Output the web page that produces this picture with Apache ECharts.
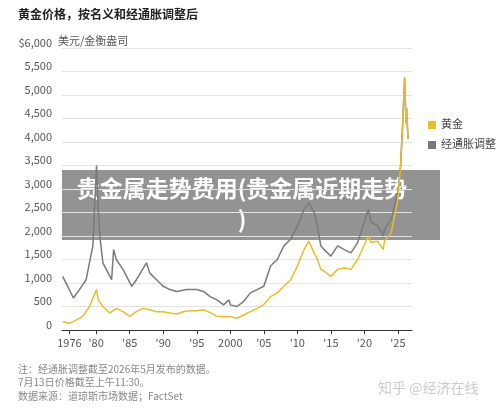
<!DOCTYPE html><html><head><meta charset="utf-8"><script src="https://cdn.jsdelivr.net/npm/echarts@6/dist/echarts.min.js"></script>
<style>body{margin:0;background:#fff}#c{width:500px;height:410px}</style></head><body><div id="c"></div><script>
const nominalYears=[1975,1976,1977,1978,1979,1980.05,1980.3,1981,1982,1983,1984,1985,1986,1987,1988,1989,1990,1991,1992,1993,1994,1995,1996,1997,1998,1999,2000,2001,2002,2003,2004,2005,2006,2007,2008,2009,2010,2011,2011.7,2012.5,2013,2013.5,2014,2015,2016,2017,2018,2019,2020.6,2021,2022,2022.8,2023,2024,2024.5,2025,2025.4,2025.7,2026,2026.2,2026.3,2026.5];
const nominalValues=[180,140,210,290,500,860,640,500,360,460,390,290,390,460,430,390,390,360,340,390,410,410,430,370,290,280,285,250,320,390,460,540,710,790,930,1070,1360,1710,1890,1640,1500,1290,1250,1140,1290,1320,1290,1500,2000,1860,1890,1710,1890,2070,2430,2790,3500,4360,5390,4400,4710,4070];
const realYears=[1975,1976.6,1977.5,1978.5,1979.5,1980.05,1980.3,1980.6,1981,1982.3,1982.6,1983,1984,1985.3,1986,1987.5,1988,1989,1990,1991,1992,1993.5,1995,1996,1997,1998,1999,1999.8,2000,2001,2002,2003,2004,2005,2006,2007,2008,2009,2010,2011,2011.7,2012.5,2013,2013.5,2014,2015,2016,2017,2018,2019,2020.6,2021,2022,2022.8,2023,2024,2024.5,2025,2025.4,2025.7,2026,2026.2,2026.3,2026.5];
const realValues=[1140,680,860,1070,1790,3500,2570,1930,1430,1070,1710,1500,1290,930,1070,1430,1210,1070,930,860,820,860,860,820,710,640,535,640,535,500,610,790,860,930,1360,1500,1790,1930,2210,2570,2710,2500,2210,1790,1710,1570,1790,1710,1640,1860,2570,2290,2210,2000,2140,2360,2640,2930,3500,4360,5360,4400,4710,4070];
const tickYears=[1976,1980,1985,1990,1995,2000,2005,2010,2015,2020,2025];
const tickLabels=['1976',"'80","'85","'90","'95",'2000',"'05","'10","'15","'20","'25"];
const yTicks=[0,500,1000,1500,2000,2500,3000,3500,4000,4500,5000,5500,6000];
const zip=(a,b)=>a.map((x,i)=>[x,b[i]]);
const F='"Noto Sans CJK SC","Noto Sans",sans-serif';
const ch=echarts.init(document.getElementById('c'));
ch.setOption({
 animation:false,
 grid:{left:62,right:88,top:48,bottom:80},
 xAxis:{type:'value',min:1974.9,max:2027.1,
  axisLine:{lineStyle:{color:'#333',width:1}},
  axisTick:{show:true,customValues:tickYears,length:4,lineStyle:{color:'#333'}},
  axisLabel:{customValues:tickYears,formatter:v=>tickLabels[tickYears.indexOf(Math.round(v))]||'',color:'#555',fontSize:11,fontFamily:F,margin:7},
  splitLine:{show:false}},
 yAxis:{type:'value',min:0,max:6000,interval:500,
  axisLine:{show:false},axisTick:{show:false},
  splitLine:{lineStyle:{color:'#e3e3e3'}},
  axisLabel:{verticalAlign:'bottom',margin:10,color:'#555',fontSize:11,fontFamily:F,
   formatter:v=>v===6000?'$6,000':v.toLocaleString('en-US')}},
 legend:{show:false},
 series:[
  {name:'经通胀调整',type:'line',data:zip(realYears,realValues),symbol:'none',lineStyle:{color:'#7a7a7a',width:1.5}},
  {name:'黄金',type:'line',data:zip(nominalYears,nominalValues),symbol:'none',lineStyle:{color:'#e8bd2c',width:1.5}}
 ],
 graphic:[
  {type:'text',left:18,top:8,style:{text:'黄金价格，按名义和经通胀调整后',font:'bold 12px '+F,fill:'#222'}},
  {type:'rect',shape:{x:56,y:34,width:90,height:14},style:{fill:'#fff'}},
  {type:'text',left:58,top:35,style:{text:'美元/金衡盎司',font:'11px '+F,fill:'#555'}},
  {type:'rect',shape:{x:428,y:121,width:8,height:8},style:{fill:'#e8bd2c'}},
  {type:'text',left:441,top:118,style:{text:'黄金',font:'11px '+F,fill:'#444'}},
  {type:'rect',shape:{x:428,y:141,width:8,height:8},style:{fill:'#7a7a7a'}},
  {type:'text',left:441,top:138,style:{text:'经通胀调整',font:'11px '+F,fill:'#444'}},
  {type:'rect',shape:{x:62,y:170,width:378,height:70},style:{fill:'rgba(105,105,105,0.72)'}},
  {type:'text',x:242,y:188,style:{text:'贵金属走势费用(贵金属近期走势',font:'bold 23px '+F,fill:'#fff',align:'center',verticalAlign:'middle'}},
  {type:'text',x:242,y:219,style:{text:')',font:'bold 23px '+F,fill:'#fff',align:'center',verticalAlign:'middle'}},
  {type:'text',left:18,top:362,style:{text:'注：经通胀调整截至2026年5月发布的数据。\n7月13日价格截至上午11:30。\n数据来源：道琼斯市场数据；FactSet',font:'10px '+F,fill:'#888',lineHeight:13.5}},
  {type:'text',left:378,top:381,style:{text:'知乎 @经济在线',font:'14px '+F,fill:'#ccc'}}
 ]
});
</script></body></html>
